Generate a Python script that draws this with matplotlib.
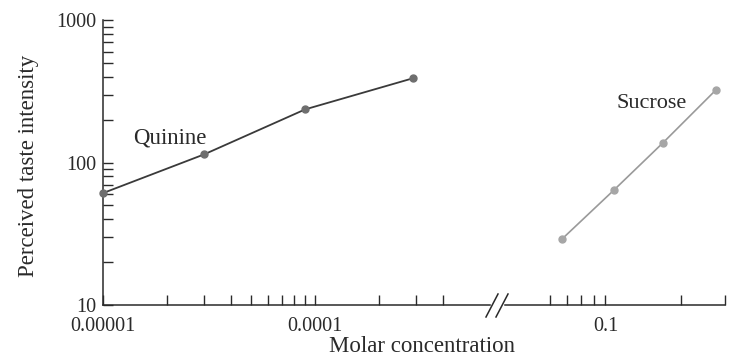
import matplotlib
matplotlib.use("Agg")
import matplotlib.pyplot as plt
from matplotlib.lines import Line2D
from matplotlib.ticker import FixedLocator, NullFormatter

# data
quinine_conc = [1e-5, 3e-5, 9e-5, 2.9e-4]
quinine_intensity = [61, 114, 236, 390]
sucrose_conc = [0.067, 0.108, 0.17, 0.275]
sucrose_intensity = [29, 64, 138, 321]

y_major = [10, 100, 1000]
y_minor = [20, 30, 40, 50, 60, 70, 80, 90, 200, 300, 400, 500, 600, 700, 800, 900]
left_major = [1e-5, 1e-4]
left_labels = ["0.00001", "0.0001"]
left_minor = [2e-5, 3e-5, 4e-5, 5e-5, 6e-5, 7e-5, 8e-5, 9e-5, 2e-4, 3e-4, 4e-4]
right_major = [0.1]
right_labels = ["0.1"]
right_minor = [0.06, 0.07, 0.08, 0.09, 0.2, 0.3]

plt.rcParams['font.family'] = ['Liberation Serif', 'DejaVu Serif']
ink = "#2a2a2a"

fig = plt.figure(figsize=(7.36, 3.6), dpi=100)
W, H = 736.0, 360.0
bottom = (H - 305) / H
height = (305 - 20) / H
ax1 = fig.add_axes([103 / W, bottom, (490 - 103) / W, height])
ax2 = fig.add_axes([505 / W, bottom, (725 - 505) / W, height], sharey=ax1)

for ax in (ax1, ax2):
    ax.set_xscale("log")
    ax.set_yscale("log")
    ax.patch.set_alpha(0)
    for s in ("top", "right"):
        ax.spines[s].set_visible(False)
    ax.spines["bottom"].set_color(ink)
    ax.spines["left"].set_color(ink)
    ax.spines["bottom"].set_linewidth(1.1)
    ax.spines["left"].set_linewidth(1.1)
    ax.tick_params(which="both", direction="in", colors=ink, labelsize=14.5,
                   labelcolor=ink, width=1.0)
    ax.tick_params(axis="x", which="major", length=7.5, pad=8.5)
    ax.tick_params(axis="x", which="minor", length=7.5)
    ax.tick_params(axis="y", which="both", length=7, pad=5)

ax1.set_ylim(10, 1000)
ax1.yaxis.set_major_locator(FixedLocator(y_major))
ax1.yaxis.set_minor_locator(FixedLocator(y_minor))
ax1.yaxis.set_minor_formatter(NullFormatter())
ax1.set_yticklabels([str(v) for v in y_major])

ax1.set_xlim(1e-5, 6.7e-4)
ax1.xaxis.set_major_locator(FixedLocator(left_major))
ax1.xaxis.set_minor_locator(FixedLocator(left_minor))
ax1.xaxis.set_minor_formatter(NullFormatter())
ax1.set_xticklabels(left_labels)

ax2.set_xlim(0.0397, 0.3)
ax2.xaxis.set_major_locator(FixedLocator(right_major))
ax2.xaxis.set_minor_locator(FixedLocator(right_minor))
ax2.xaxis.set_minor_formatter(NullFormatter())
ax2.set_xticklabels(right_labels)
ax2.spines["left"].set_visible(False)
ax2.tick_params(axis="y", which="both", left=False, labelleft=False)

ax1.plot(quinine_conc, quinine_intensity, color="#3a3a3a", lw=1.3,
         marker="o", ms=5, mfc="#6e6e6e", mec="#6e6e6e", clip_on=False, zorder=3)
ax2.plot(sucrose_conc, sucrose_intensity, color="#9a9a9a", lw=1.2,
         marker="o", ms=5, mfc="#a6a6a6", mec="#a6a6a6", clip_on=False, zorder=3)

fig.text(170 / W, (H - 138) / H, "Quinine", ha="center", va="center",
         fontsize=16.5, color=ink)
fig.text(652 / W, (H - 104) / H, "Sucrose", ha="center", va="center",
         fontsize=16, color=ink)

fig.text(29 / W, (H - 166) / H, "Perceived taste intensity", rotation=90,
         ha="center", va="center", fontsize=16.5, color=ink)
fig.text(422 / W, (H - 347) / H, "Molar concentration", ha="center",
         va="center", fontsize=16.5, color=ink)

# break marks on the x axis
for x0 in (486, 496):
    fig.add_artist(Line2D([x0 / W, (x0 + 12) / W], [(H - 317) / H, (H - 294) / H],
                          color=ink, lw=1.1))

fig.savefig("out.png", dpi=100)
